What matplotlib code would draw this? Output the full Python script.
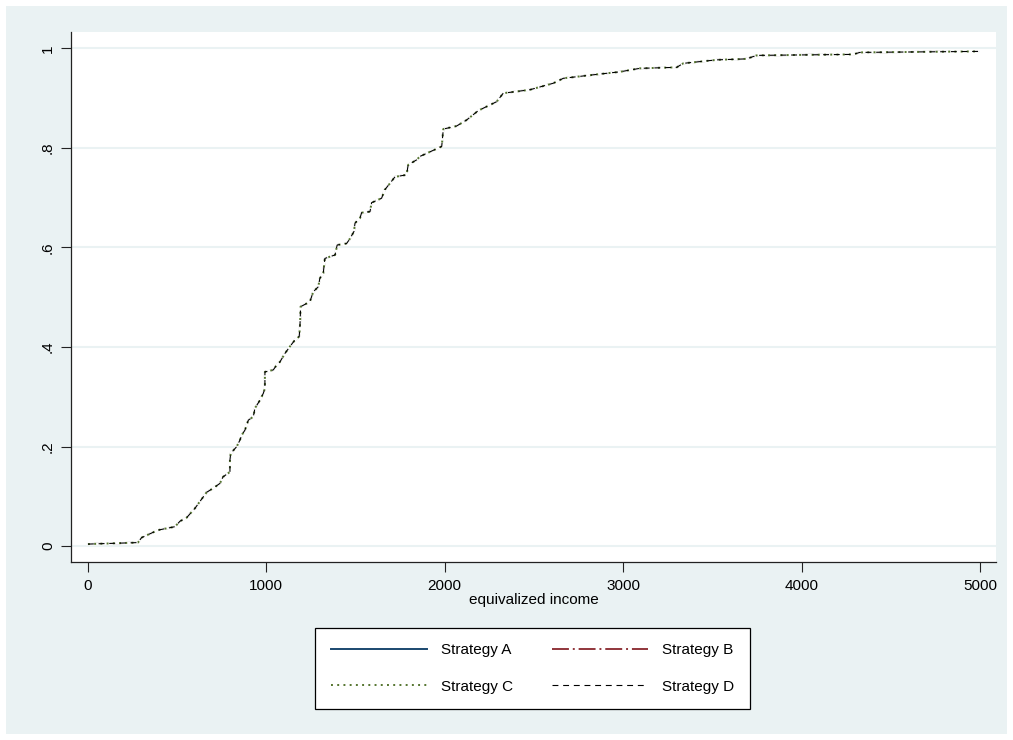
import matplotlib.pyplot as plt
from matplotlib.patches import Rectangle

plt.rcParams['font.family'] = ['Liberation Sans', 'DejaVu Sans']

income = [0, 280, 301, 392, 488, 516, 553, 600, 665, 701, 740, 757, 796, 796,
          800, 834, 852, 862, 880, 899, 927, 936, 964, 983, 992, 992, 1039,
          1058, 1076, 1104, 1132, 1160, 1184, 1188, 1192, 1244, 1263, 1291,
          1300, 1319, 1328, 1385, 1397, 1450, 1469, 1491, 1497, 1525, 1534,
          1581, 1590, 1646, 1664, 1693, 1721, 1786, 1795, 1842, 1861, 1983,
          1992, 2066, 2122, 2188, 2291, 2328, 2478, 2608, 2665, 2833, 2982,
          3094, 3300, 3337, 3524, 3692, 3748, 4290, 4327, 4990]
share = [0.004, 0.007, 0.017, 0.032, 0.039, 0.050, 0.057, 0.076, 0.108, 0.116,
         0.126, 0.139, 0.149, 0.173, 0.186, 0.200, 0.213, 0.223, 0.233, 0.253,
         0.260, 0.277, 0.293, 0.307, 0.317, 0.350, 0.354, 0.364, 0.370, 0.387,
         0.401, 0.414, 0.421, 0.438, 0.481, 0.491, 0.511, 0.521, 0.538, 0.548,
         0.578, 0.585, 0.605, 0.608, 0.618, 0.632, 0.649, 0.659, 0.670, 0.672,
         0.690, 0.699, 0.716, 0.729, 0.742, 0.746, 0.766, 0.776, 0.783, 0.803,
         0.838, 0.844, 0.856, 0.875, 0.893, 0.910, 0.917, 0.930, 0.940, 0.947,
         0.953, 0.960, 0.962, 0.970, 0.977, 0.979, 0.986, 0.988, 0.992, 0.994]

strategies = ['Strategy A', 'Strategy B', 'Strategy C', 'Strategy D']
colors = ['#1a476f', '#90353b', '#55752f', '#000000']
styles = ['-', (0, (8.7, 2, 1, 2)), (0, (1, 2.2)), (0, (5.3, 4.3))]
widths = [1.4, 1.4, 1.4, 0.8]

xticks = [0, 1000, 2000, 3000, 4000, 5000]
yticks = [0, 0.2, 0.4, 0.6, 0.8, 1]
ylabels = ['0', '.2', '.4', '.6', '.8', '1']

bg = '#eaf2f3'
fig = plt.figure(figsize=(10.13, 7.40), dpi=100, facecolor='white')
fig.patches.append(Rectangle((6 / 1013, 6 / 740), 1001 / 1013, 728 / 740,
                             transform=fig.transFigure, facecolor=bg,
                             edgecolor='none', zorder=-5))

ax = fig.add_axes([71 / 1013, 1 - 562 / 740, 925 / 1013, 530 / 740])
ax.set_zorder(2)
ax.set_facecolor('white')

for yv in yticks:
    ax.axhline(yv, color=bg, lw=1.5, zorder=0)

lines = []
for i in range(4):
    ln, = ax.plot(income, share, color=colors[i], linestyle=styles[i],
                  lw=widths[i], label=strategies[i], zorder=2 + i)
    lines.append(ln)
    if i == 1:
        # A and B sit exactly under C and D and do not show in the original
        ax.plot(income, share, color='white', lw=2.2, zorder=3.5)

ax.set_xlim(-95, 5090)
ax.set_ylim(-0.032, 1.033)
ax.set_xticks(xticks)
ax.set_yticks(yticks)
ax.set_yticklabels(ylabels, rotation=90, va='center')
ax.tick_params(axis='both', length=7.5, width=0.8, labelsize=11, color='#222222')
ax.tick_params(axis='x', pad=5)
ax.tick_params(axis='y', pad=4)

for s in ['top', 'right']:
    ax.spines[s].set_visible(False)
for s in ['left', 'bottom']:
    ax.spines[s].set_color('#222222')
    ax.spines[s].set_linewidth(0.9)

ax.set_xlabel('equivalized income', fontsize=11, labelpad=0)

# row-wise order like the original: A B / C D
order = [0, 2, 1, 3]
leg = fig.legend([lines[k] for k in order], [strategies[k] for k in order],
                 loc='center', bbox_to_anchor=(532.5 / 1013, 1 - 668.5 / 740),
                 ncol=2, fontsize=11, handlelength=6.3, handletextpad=0.95,
                 columnspacing=2.5, labelspacing=1.45, borderpad=1.0,
                 fancybox=False, edgecolor='black', framealpha=1)
leg.get_frame().set_linewidth(0.9)
leg.set_zorder(3)

fig.savefig('out.png', dpi=100, facecolor='white')
